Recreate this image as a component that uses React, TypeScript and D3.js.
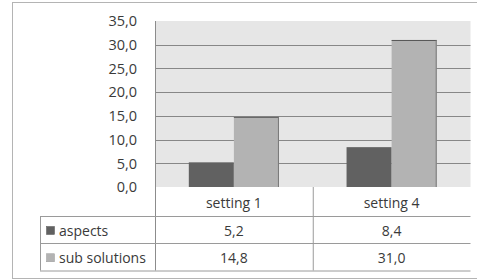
import React, { useRef, useEffect } from 'react';
import * as d3 from 'd3';

const categories = ['setting 1', 'setting 4'];
const seriesNames = ['aspects', 'sub solutions'];
const aspects = [5.2, 8.4];
const subSolutions = [14.8, 31.0];
const yTicks = [0, 5, 10, 15, 20, 25, 30, 35];

const colors = ['#616161', '#b3b3b3'];
const fmt = (v: number) => v.toFixed(1).replace('.', ',');

const App = () => {
    const chartRef = useRef<SVGSVGElement>(null);

    useEffect(() => {
        const width = 477;
        const height = 280;
        const plotLeft = 155;
        const plotRight = 470.5;
        const plotTop = 21;
        const plotBottom = 187;
        const tableLeft = 40;
        const rowLines = [216, 243, 270.5];
        const font = '"Open Sans", Lato, sans-serif';
        const textColor = '#3a3a3a';

        const values = [aspects, subSolutions];

        const svg = d3.select(chartRef.current)
            .attr('width', width)
            .attr('height', height);
        svg.selectAll('*').remove();

        // outer frame
        svg.append('rect')
            .attr('x', 12.5).attr('y', 2.5)
            .attr('width', 470).attr('height', 276)
            .attr('fill', 'white')
            .attr('stroke', '#b4b4b4');

        const x0 = d3.scaleBand()
            .domain(categories)
            .range([plotLeft, plotRight])
            .paddingInner(0);

        const x1 = d3.scaleBand()
            .domain(seriesNames)
            .range([0, x0.bandwidth()])
            .paddingInner(0)
            .paddingOuter(0.75);

        const y = d3.scaleLinear()
            .domain([0, 35])
            .range([plotBottom, plotTop]);

        svg.append('rect')
            .attr('x', plotLeft).attr('y', plotTop)
            .attr('width', plotRight - plotLeft)
            .attr('height', plotBottom - plotTop)
            .attr('fill', '#e6e6e6');

        svg.append('g')
            .selectAll('line')
            .data(yTicks.filter(d => d > 0 && d < 35))
            .join('line')
            .attr('x1', plotLeft).attr('x2', plotRight)
            .attr('y1', d => Math.round(y(d)) + 0.5)
            .attr('y2', d => Math.round(y(d)) + 0.5)
            .attr('stroke', '#878787');

        svg.append('g')
            .selectAll('text')
            .data(yTicks)
            .join('text')
            .attr('x', 137)
            .attr('y', d => y(d))
            .attr('dy', '0.36em')
            .attr('text-anchor', 'end')
            .attr('font-family', font)
            .attr('font-size', 14.5)
            .attr('fill', textColor)
            .text(d => fmt(d));

        // bars
        seriesNames.forEach((s, si) => {
            const g = svg.append('g');
            g.selectAll('rect')
                .data(categories)
                .join('rect')
                .attr('x', c => (x0(c) ?? 0) + (x1(s) ?? 0))
                .attr('y', (c, i) => y(values[si][i]))
                .attr('width', x1.bandwidth())
                .attr('height', (c, i) => plotBottom - y(values[si][i]))
                .attr('fill', colors[si]);
            if (si === 1) {
                g.selectAll('line.top')
                    .data(categories)
                    .join('line')
                    .attr('class', 'top')
                    .attr('x1', c => (x0(c) ?? 0) + (x1(s) ?? 0))
                    .attr('x2', c => (x0(c) ?? 0) + (x1(s) ?? 0) + x1.bandwidth())
                    .attr('y1', (c, i) => y(values[si][i]) + 0.5)
                    .attr('y2', (c, i) => y(values[si][i]) + 0.5)
                    .attr('stroke', '#575757');
                g.selectAll('line.side')
                    .data(categories)
                    .join('line')
                    .attr('class', 'side')
                    .attr('x1', c => (x0(c) ?? 0) + (x1(s) ?? 0) + x1.bandwidth() - 0.5)
                    .attr('x2', c => (x0(c) ?? 0) + (x1(s) ?? 0) + x1.bandwidth() - 0.5)
                    .attr('y1', (c, i) => y(values[si][i]))
                    .attr('y2', plotBottom)
                    .attr('stroke', '#777');
            }
        });

        // axis line
        svg.append('line')
            .attr('x1', plotLeft + 0.5).attr('x2', plotLeft + 0.5)
            .attr('y1', plotTop).attr('y2', rowLines[2])
            .attr('stroke', '#8c8c8c');

        // data table lines
        const table = svg.append('g').attr('stroke', '#9a9a9a');
        rowLines.forEach(ly => {
            table.append('line')
                .attr('x1', tableLeft).attr('x2', plotRight)
                .attr('y1', ly + 0.5).attr('y2', ly + 0.5);
        });
        table.append('line')
            .attr('x1', tableLeft + 0.5).attr('x2', tableLeft + 0.5)
            .attr('y1', rowLines[0]).attr('y2', rowLines[2]);
        table.append('line')
            .attr('x1', (x0(categories[1]) ?? 0) + 0.5)
            .attr('x2', (x0(categories[1]) ?? 0) + 0.5)
            .attr('y1', plotBottom).attr('y2', rowLines[2]);

        // category labels
        svg.append('g')
            .selectAll('text')
            .data(categories)
            .join('text')
            .attr('x', c => (x0(c) ?? 0) + x0.bandwidth() / 2)
            .attr('y', 202.5)
            .attr('dy', '0.36em')
            .attr('text-anchor', 'middle')
            .attr('font-family', font)
            .attr('font-size', 14)
            .attr('fill', textColor)
            .text(c => c);

        // legend rows with values
        seriesNames.forEach((s, si) => {
            const cy = (rowLines[si] + rowLines[si + 1]) / 2 + 1;
            svg.append('rect')
                .attr('x', 46.5).attr('y', cy - 4)
                .attr('width', 8).attr('height', 8)
                .attr('fill', colors[si])
                .attr('stroke', si === 0 ? '#555' : '#999')
                .attr('stroke-width', 0.5);
            svg.append('text')
                .attr('x', 59)
                .attr('y', cy)
                .attr('dy', '0.36em')
                .attr('font-family', font)
                .attr('font-size', 14)
                .attr('fill', textColor)
                .text(s);
            svg.append('g')
                .selectAll('text')
                .data(categories)
                .join('text')
                .attr('x', c => (x0(c) ?? 0) + x0.bandwidth() / 2)
                .attr('y', cy)
                .attr('dy', '0.36em')
                .attr('text-anchor', 'middle')
                .attr('font-family', font)
                .attr('font-size', 14)
                .attr('fill', textColor)
                .text((c, i) => fmt(values[si][i]));
        });
    }, []);

    return <svg ref={chartRef} style={{ position: 'absolute', left: 0, top: 0 }}></svg>;
};

export default App;
